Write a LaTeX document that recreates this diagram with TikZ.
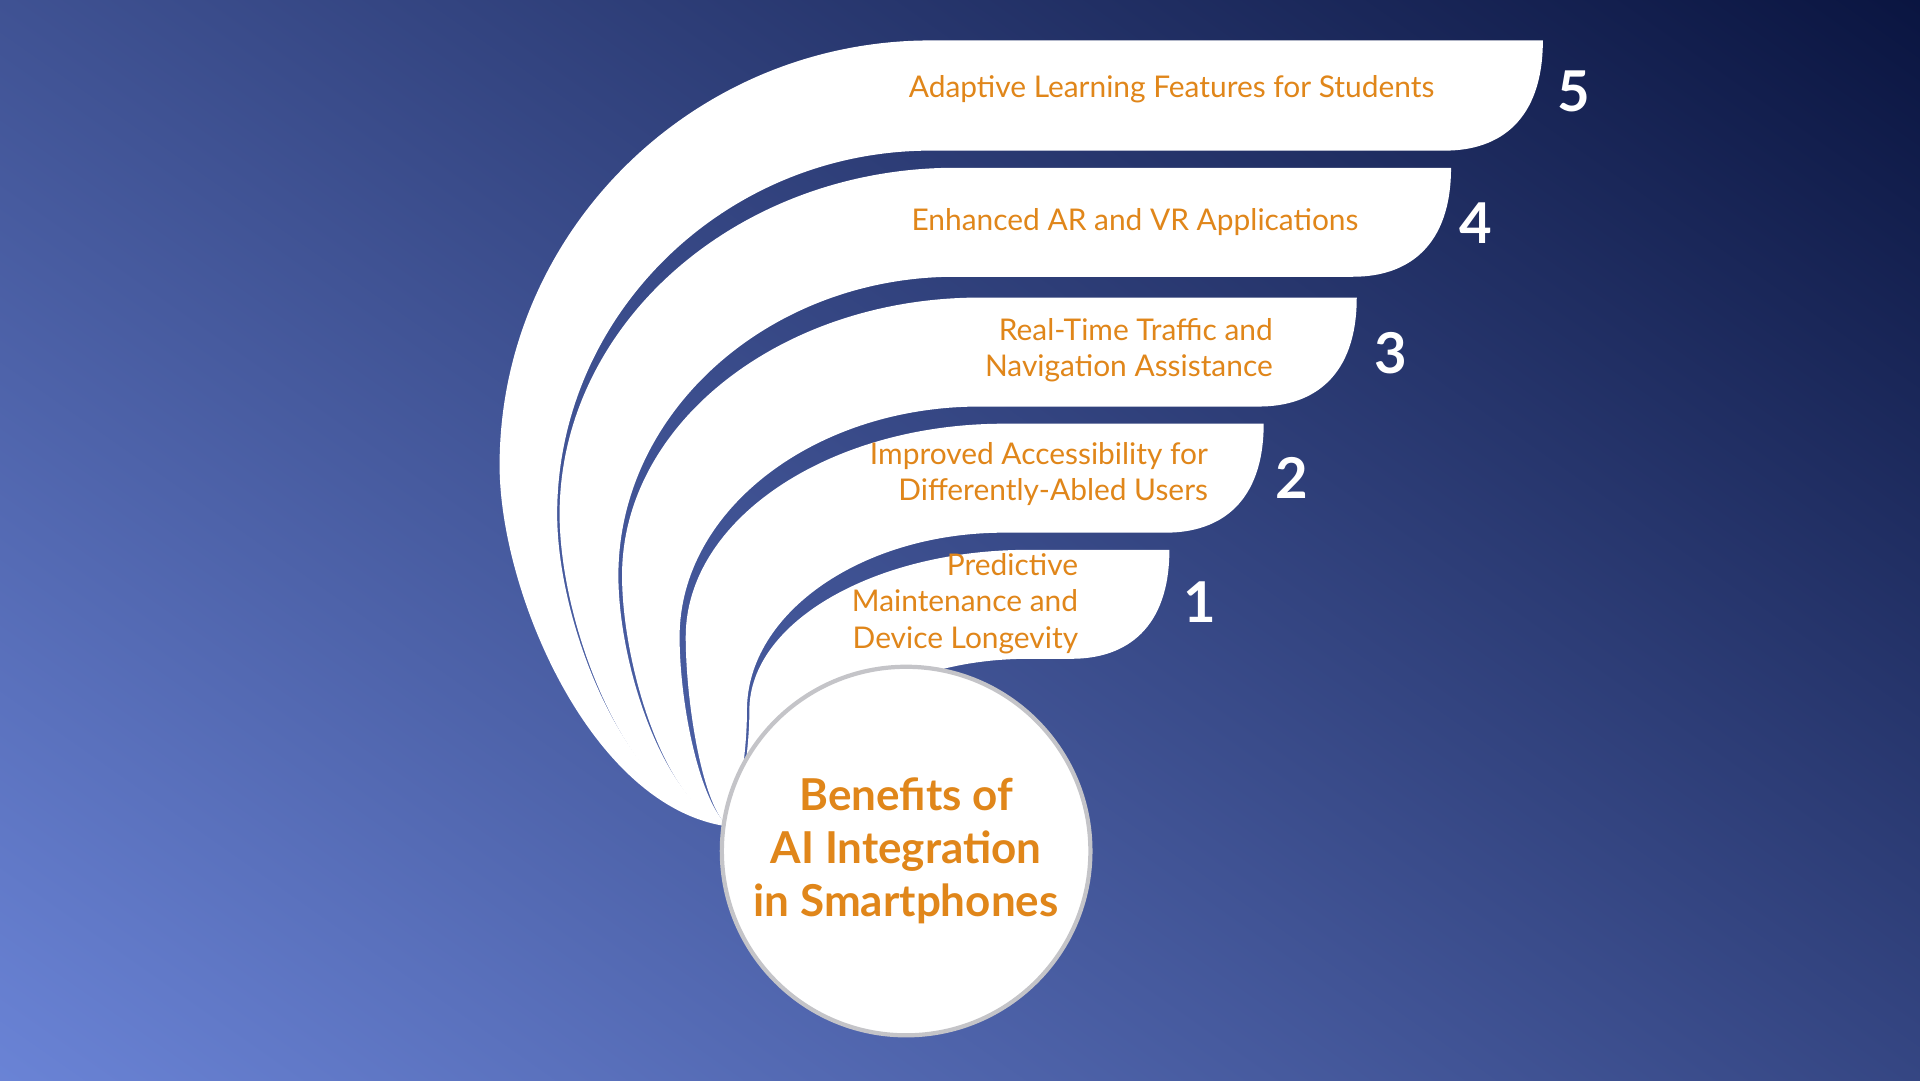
\documentclass[tikz,border=0pt]{standalone}
\usepackage{fontspec}
\setmainfont{Lato}
\definecolor{navy}{HTML}{06103A}
\definecolor{periw}{HTML}{6E88DC}
\definecolor{amber}{HTML}{E0861A}
\definecolor{rimgray}{HTML}{C4C4C8}
\newcommand{\fanband}[8]{% top, bot, right, Lout, yout, Lin, yin, xs
  \pgfmathsetmacro{\ca}{#8-0.55*(#8-#4)}
  \pgfmathsetmacro{\cb}{#1+0.45*(#5-#1)}
  \pgfmathsetmacro{\cc}{#8-0.55*(#8-#6)}
  \pgfmathsetmacro{\cd}{#2+0.45*(#7-#2)}
  \pgfmathsetmacro{\ce}{#7+0.35*(675-#7)}
  \pgfmathsetmacro{\cf}{#5+0.35*(675-#5)}
  \pgfmathsetmacro{\cg}{#6+0.4*(595-#6)}
  \pgfmathsetmacro{\ch}{#4+0.4*(595-#4)}
  \fill[white] (#8,#1) -- (#3,#1) .. controls (#3,#2-25) and (#3-35,#2) .. (#3-80,#2)
    -- (#8,#2) .. controls (\cc,#2) and (#6,\cd) .. (#6,#7)
    .. controls (#6,\ce) and (\cg,655) .. (595,675)
    .. controls (\ch,660) and (#4,\cf) .. (#4,#5)
    .. controls (#4,\cb) and (\ca,#1) .. (#8,#1) -- cycle;}
\begin{document}
\begin{tikzpicture}[x=0.012245cm, y=-0.012245cm,
  item/.style={text=amber, font=\fontsize{8.5}{10.4}\selectfont, align=right, anchor=east, inner sep=0pt},
  rank/.style={text=white, font=\fontsize{16}{16}\selectfont\bfseries, inner sep=0pt},
  hub/.style={circle, fill=white, draw=rimgray, line width=1.2pt, minimum size=300*0.012245cm, align=center,
    text=amber, font=\fontsize{12.5}{15}\selectfont\bfseries}]
\useasboundingbox (0,0) rectangle (1568,882);
\shade[top color=navy, bottom color=periw, shading angle=-35] (-300,-300) rectangle (1868,1182);
\fanband{33}{123}{1260}{408}{380}{455}{420}{760}
\fanband{137}{226}{1185}{457}{420}{505}{470}{780}
\fanband{243}{332}{1108}{508}{470}{555}{520}{800}
\fanband{346}{435}{1032}{560}{520}{610}{580}{820}
\fanband{449}{538}{955}{612}{580}{680}{620}{840}
\node[hub] (hub) at (740,695) {Benefits of\\AI Integration\\in Smartphones};
\node[item] (t5) at (1172,73) {Adaptive Learning Features for Students};
\node[item] (t4) at (1110,181) {Enhanced AR and VR Applications};
\node[item] (t3) at (1040,286) {Real-Time Traffic and\\Navigation Assistance};
\node[item] (t2) at (987,387) {Improved Accessibility for\\Differently-Abled Users};
\node[item] (t1) at (881,493) {Predictive\\Maintenance and\\Device Longevity};
\node[rank] (n5) at (1285,75) {5};
\node[rank] (n4) at (1205,182) {4};
\node[rank] (n3) at (1136,288) {3};
\node[rank] (n2) at (1055,390) {2};
\node[rank] (n1) at (980,492) {1};
\end{tikzpicture}
\end{document}
